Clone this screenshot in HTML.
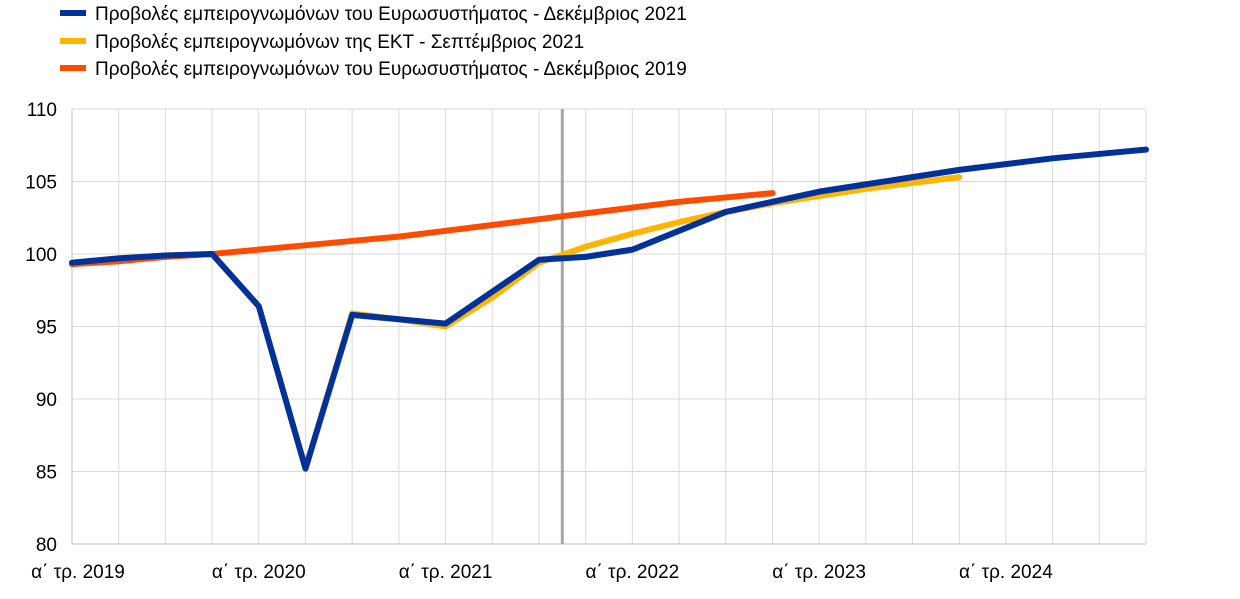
<!DOCTYPE html>
<html><head><meta charset="utf-8"><style>
body{margin:0;background:#fff;font-family:"Liberation Sans",sans-serif;}
svg text{font-family:"Liberation Sans",sans-serif;font-size:19px;fill:#000;}
</style></head><body>
<svg id="chart" width="1240" height="594">
<g id="legend">
<g><rect x="60" y="10" width="26" height="6" fill="#003299"/><text x="95" y="20">Προβολές εμπειρογνωμόνων του Ευρωσυστήματος - Δεκέμβριος 2021</text></g>
<g><rect x="60" y="38" width="26" height="6" fill="#FFB400"/><text x="95" y="48">Προβολές εμπειρογνωμόνων της ΕΚΤ - Σεπτέμβριος 2021</text></g>
<g><rect x="60" y="65" width="26" height="6" fill="#FF4B00"/><text x="95" y="75">Προβολές εμπειρογνωμόνων του Ευρωσυστήματος - Δεκέμβριος 2019</text></g>
</g>
<g id="grid"></g>
<g id="axes"></g>
<g id="series"></g>
</svg>
<script>
const yTicks=[80,85,90,95,100,105,110];
const xLabels=["α΄ τρ. 2019","α΄ τρ. 2020","α΄ τρ. 2021","α΄ τρ. 2022","α΄ τρ. 2023","α΄ τρ. 2024"];
const dec2021=[99.4,99.7,99.9,100.0,96.4,85.2,95.8,95.5,95.2,97.4,99.6,99.8,100.3,101.6,102.9,103.6,104.3,104.8,105.3,105.8,106.2,106.6,106.9,107.2];
const sep2021=[99.4,99.7,99.9,100.0,96.4,85.2,95.9,95.5,95.0,97.0,99.4,100.5,101.4,102.2,102.9,103.5,104.0,104.5,104.9,105.3];
const dec2019=[99.3,99.5,99.8,100.0,100.3,100.6,100.9,101.2,101.6,102.0,102.4,102.8,103.2,103.6,103.9,104.2];
const cutoff=10.5;
const x0=72,x1=1146,nQ=24,yTop=109,yBot=544;
const X=i=>x0+i*(x1-x0)/(nQ-1);
const Y=v=>yBot-(v-80)/30*(yBot-yTop);
const NS="http://www.w3.org/2000/svg";
function mk(t,a,p){const e=document.createElementNS(NS,t);for(const k in a)e.setAttribute(k,a[k]);p.appendChild(e);return e;}
const grid=document.getElementById('grid'),axes=document.getElementById('axes'),ser=document.getElementById('series');
for(let i=1;i<nQ;i++){const l=mk('line',{x1:X(i),x2:X(i),y1:yTop,y2:yBot,stroke:'#d9d9d9','stroke-width':1},grid);

}
yTicks.forEach(v=>{const l=mk('line',{x1:x0,x2:x1,y1:Y(v),y2:Y(v),stroke:'#d9d9d9','stroke-width':1},grid);


const t=mk('text',{x:57,y:Y(v)+7,'text-anchor':'end'},axes);t.textContent=v;

});
mk('line',{x1:x0,x2:x0,y1:yTop,y2:yBot,stroke:'#bfbfbf'},axes);
mk('line',{x1:x0,x2:x1,y1:yBot,y2:yBot,stroke:'#bfbfbf'},axes);
xLabels.forEach((s,k)=>{const cx=k===0?78:X(k*4);const t=mk('text',{x:cx,y:578,'text-anchor':'middle'},axes);t.textContent=s;

});
const vl=mk('line',{x1:X(cutoff),x2:X(cutoff),y1:yTop,y2:yBot,stroke:'#a6a6a6','stroke-width':3},ser);


function line(d,c,name){const p=mk('polyline',{points:d.map((v,i)=>X(i)+','+Y(v)).join(' '),fill:'none',stroke:c,'stroke-width':6,'stroke-linejoin':'round','stroke-linecap':'round'},ser);

}
line(dec2019,'#FF4B00','line-dec-2019');
line(sep2021,'#FFB400','line-sep-2021');
line(dec2021,'#003299','line-dec-2021');
</script>
</body></html>
